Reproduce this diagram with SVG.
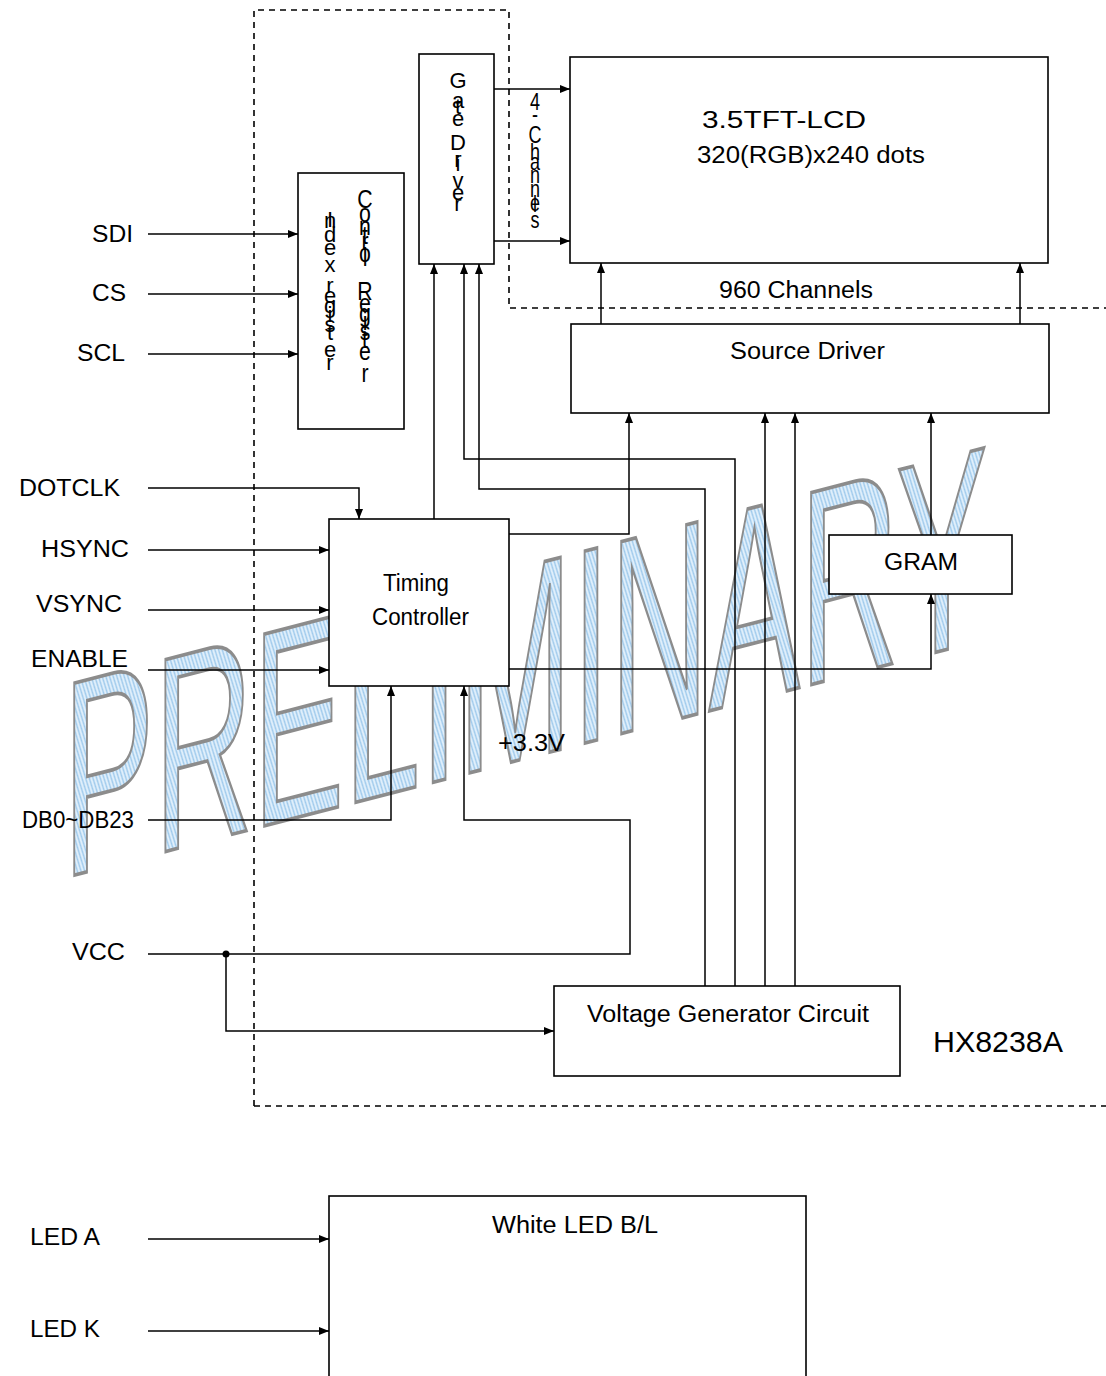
<svg xmlns="http://www.w3.org/2000/svg" width="1106" height="1376" viewBox="0 0 1106 1376">
<style>
.ln{fill:none;stroke:#000;stroke-width:1.5}
.ar{marker-end:url(#ah)}
.box{fill:#fff;stroke:#000;stroke-width:1.6}
.dash{fill:none;stroke:#000;stroke-width:1.6;stroke-dasharray:6 5}
.t{font-family:"Liberation Sans",Arial,sans-serif;font-size:23px;fill:#000}
.v{font-family:"Liberation Sans",Arial,sans-serif;fill:#000;text-anchor:middle}
</style>
<defs>
<marker id="ah" markerUnits="userSpaceOnUse" markerWidth="10" markerHeight="8" refX="10" refY="4" orient="auto">
<path d="M0,0 L10,4 L0,8 z" fill="#000"/>
</marker>
<pattern id="hatch" patternUnits="userSpaceOnUse" width="6" height="6" patternTransform="rotate(60)">
<rect width="6" height="6" fill="#e0effb"/>
<line x1="0" y1="3" x2="6" y2="3" stroke="#9fcaec" stroke-width="2.4"/>
</pattern>
</defs>

<!-- watermark -->
<g id="watermark">
<text transform="translate(63,878) skewY(-14.5) scale(0.49,1)" font-family="Liberation Sans, Arial, sans-serif" font-size="279" fill="url(#hatch)" stroke="#8c8c8c" stroke-width="3" vector-effect="non-scaling-stroke" style="vector-effect:non-scaling-stroke">PRELIMINARY</text>
</g>

<!-- boundary -->
<g id="boundary">
<path class="dash" d="M254,1106 V10 H509 V308 H1106"/>
<path class="dash" d="M254,1106 H1106"/>
</g>

<!-- nodes -->
<g id="lcd">
<rect class="box" x="570" y="57" width="478" height="206"/>
<text class="t" x="702" y="128" textLength="164" lengthAdjust="spacingAndGlyphs">3.5TFT-LCD</text>
<text class="t" x="697" y="163" textLength="228" lengthAdjust="spacingAndGlyphs">320(RGB)x240 dots</text>
</g>

<g id="gate-driver">
<rect class="box" x="419" y="54" width="75" height="210"/>
<text class="v" font-size="22">
<tspan x="458" y="88">G</tspan><tspan x="458" y="108">a</tspan><tspan x="458" y="114">t</tspan><tspan x="458" y="126">e</tspan><tspan x="458" y="150">D</tspan><tspan x="458" y="167">r</tspan><tspan x="458" y="171">i</tspan><tspan x="458" y="188">v</tspan><tspan x="458" y="200">e</tspan><tspan x="458" y="211">r</tspan>
</text>
</g>

<g id="index-control-register">
<rect class="box" x="298" y="173" width="106" height="256"/>
<text class="v" font-size="22">
<tspan x="330" y="227">I</tspan><tspan x="330" y="228">n</tspan><tspan x="330" y="242">d</tspan><tspan x="330" y="255">e</tspan><tspan x="330" y="272">x</tspan><tspan x="330" y="293">r</tspan><tspan x="330" y="303">e</tspan><tspan x="330" y="313">g</tspan><tspan x="330" y="322">i</tspan><tspan x="330" y="332">s</tspan><tspan x="330" y="340">t</tspan><tspan x="330" y="357">e</tspan><tspan x="330" y="370">r</tspan>
</text>
<g transform="translate(365,0) scale(0.82,1)">
<text class="v" font-size="26">
<tspan x="0" y="208">C</tspan><tspan x="0" y="222">o</tspan><tspan x="0" y="235">n</tspan><tspan x="0" y="244">t</tspan><tspan x="0" y="250">r</tspan><tspan x="0" y="262">o</tspan><tspan x="0" y="266">l</tspan><tspan x="0" y="300">R</tspan><tspan x="0" y="312">e</tspan><tspan x="0" y="322">g</tspan><tspan x="0" y="330">i</tspan><tspan x="0" y="340">s</tspan><tspan x="0" y="348">t</tspan><tspan x="0" y="360">e</tspan><tspan x="0" y="382">r</tspan>
</text>
</g>
</g>

<g id="gate-channels-label">
<g transform="translate(535,0) scale(0.75,1)">
<text class="v" font-size="24">
<tspan x="0" y="110">4</tspan><tspan x="0" y="122">-</tspan><tspan x="0" y="143">C</tspan><tspan x="0" y="160">h</tspan><tspan x="0" y="170">a</tspan><tspan x="0" y="183">n</tspan><tspan x="0" y="197">n</tspan><tspan x="0" y="211">e</tspan><tspan x="0" y="212">l</tspan><tspan x="0" y="228">s</tspan>
</text>
</g>
</g>

<g id="source-driver">
<rect class="box" x="571" y="324" width="478" height="89"/>
<text class="t" x="730" y="359" textLength="155" lengthAdjust="spacingAndGlyphs">Source Driver</text>
</g>

<g id="timing-controller">
<rect class="box" x="329" y="519" width="180" height="167"/>
<text class="t" x="383" y="591" textLength="66" lengthAdjust="spacingAndGlyphs">Timing</text>
<text class="t" x="372" y="625" textLength="97" lengthAdjust="spacingAndGlyphs">Controller</text>
</g>

<g id="gram">
<rect class="box" x="829" y="535" width="183" height="59"/>
<text class="t" x="884" y="570" textLength="74" lengthAdjust="spacingAndGlyphs">GRAM</text>
</g>

<g id="voltage-generator">
<rect class="box" x="554" y="986" width="346" height="90"/>
<text class="t" x="587" y="1022" textLength="282" lengthAdjust="spacingAndGlyphs">Voltage Generator Circuit</text>
</g>

<g id="white-led">
<rect class="box" x="329" y="1196" width="477" height="200"/>
<text class="t" x="492" y="1233" textLength="166" lengthAdjust="spacingAndGlyphs">White LED B/L</text>
</g>

<!-- connectors -->
<g id="connectors">
<path class="ln ar" d="M148,234 H298"/>
<path class="ln ar" d="M148,294 H298"/>
<path class="ln ar" d="M148,354 H298"/>
<path class="ln ar" d="M148,488 H359 V519"/>
<path class="ln ar" d="M148,550 H329"/>
<path class="ln ar" d="M148,610 H329"/>
<path class="ln ar" d="M148,670 H329"/>
<path class="ln ar" d="M148,820 H391 V686"/>
<path class="ln ar" d="M434,519 V264"/>
<path class="ln ar" d="M148,954 H630 V820 H464 V686"/>
<circle cx="226" cy="954" r="3.5" fill="#000"/>
<path class="ln ar" d="M226,954 V1031 H554"/>
<path class="ln ar" d="M735,986 V459 H464 V264"/>
<path class="ln ar" d="M705,986 V489 H479 V264"/>
<path class="ln ar" d="M765,986 V413"/>
<path class="ln ar" d="M795,986 V413"/>
<path class="ln ar" d="M509,534 H629 V413"/>
<path class="ln ar" d="M509,669 H931 V594"/>
<path class="ln ar" d="M931,535 V413"/>
<path class="ln ar" d="M601,324 V263"/>
<path class="ln ar" d="M1020,324 V263"/>
<path class="ln ar" d="M494,89 H570"/>
<path class="ln ar" d="M494,241 H570"/>
<path class="ln ar" d="M148,1239 H329"/>
<path class="ln ar" d="M148,1331 H329"/>
</g>

<!-- labels -->
<g id="labels">
<text class="t" x="92" y="242" textLength="41" lengthAdjust="spacingAndGlyphs">SDI</text>
<text class="t" x="92" y="301" textLength="34" lengthAdjust="spacingAndGlyphs">CS</text>
<text class="t" x="77" y="361" textLength="48" lengthAdjust="spacingAndGlyphs">SCL</text>
<text class="t" x="19" y="496" textLength="101" lengthAdjust="spacingAndGlyphs">DOTCLK</text>
<text class="t" x="41" y="557" textLength="88" lengthAdjust="spacingAndGlyphs">HSYNC</text>
<text class="t" x="36" y="612" textLength="86" lengthAdjust="spacingAndGlyphs">VSYNC</text>
<text class="t" x="31" y="667" textLength="97" lengthAdjust="spacingAndGlyphs">ENABLE</text>
<text class="t" x="22" y="828" textLength="112" lengthAdjust="spacingAndGlyphs">DB0~DB23</text>
<text class="t" x="72" y="960" textLength="53" lengthAdjust="spacingAndGlyphs">VCC</text>
<text class="t" x="498" y="751" textLength="67" lengthAdjust="spacingAndGlyphs">+3.3V</text>
<text class="t" x="719" y="298" textLength="154" lengthAdjust="spacingAndGlyphs">960 Channels</text>
<text class="t" x="933" y="1052" style="font-size:29px" textLength="130" lengthAdjust="spacingAndGlyphs">HX8238A</text>
<text class="t" x="30" y="1245" textLength="70" lengthAdjust="spacingAndGlyphs">LED A</text>
<text class="t" x="30" y="1337" textLength="70" lengthAdjust="spacingAndGlyphs">LED K</text>
</g>
</svg>
